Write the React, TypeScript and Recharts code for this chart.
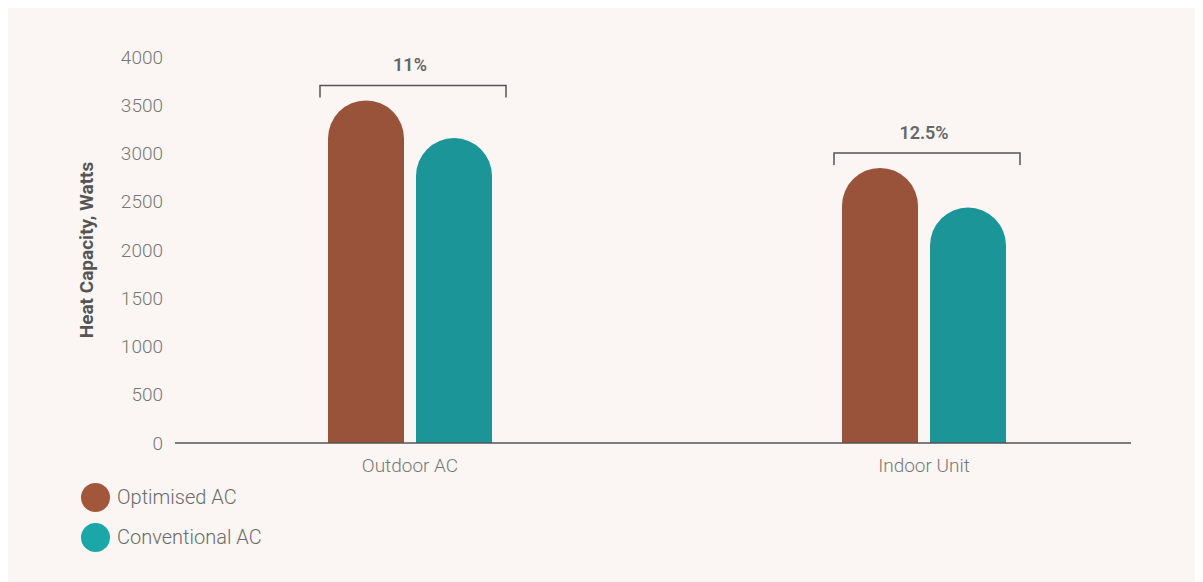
import { BarChart, Bar, XAxis, YAxis, Legend, LabelList } from 'recharts';

const categories = ['Outdoor AC', 'Indoor Unit'];
const optimisedAC = [3550, 2850];
const conventionalAC = [3160, 2440];
const gainLabels = ['11%', '12.5%'];
const yTicks = [0, 500, 1000, 1500, 2000, 2500, 3000, 3500, 4000];

const data = categories.map((name, i) => ({
  name,
  optimised: optimisedAC[i],
  conventional: conventionalAC[i],
  gain: gainLabels[i],
}));

const BAR_SIZE = 76;
const BAR_GAP = 12;

const legendOrder = ['optimised', 'conventional'];
const legendColors: Record<string, string> = {
  optimised: '#a2573b',
  conventional: '#1ba7a8',
};

// bracket + percentage drawn above each pair of bars
function GainBracket(props: any) {
  const vb = props.viewBox ?? props;
  const { x, y, width } = vb;
  const cx = x + (width * 2 + BAR_GAP) / 2;
  const lineY = y - 15;
  const left = cx - 90;
  const right = cx + 96;
  return (
    <g>
      <path
        d={`M${left},${lineY + 12}V${lineY}H${right}V${lineY + 12}`}
        fill="none"
        stroke="#555"
        strokeWidth={1.5}
      />
      <text x={cx} y={lineY - 14} textAnchor="middle" fontSize={18} fontWeight={600} fill="#666">
        {props.value}
      </text>
    </g>
  );
}

function YLabel(props: any) {
  const { x, y, height } = props.viewBox;
  const cx = x + 11;
  const cy = y + height / 2;
  return (
    <text
      x={cx}
      y={cy}
      transform={`rotate(-90, ${cx}, ${cy})`}
      textAnchor="middle"
      dominantBaseline="central"
      fontSize={19}
      fontWeight={700}
      fill="#555"
    >
      Heat Capacity, Watts
    </text>
  );
}

function LegendContent(props: any) {
  const payload = [...(props.payload || [])].sort(
    (a: any, b: any) => legendOrder.indexOf(a.dataKey) - legendOrder.indexOf(b.dataKey)
  );
  return (
    <div style={{ height: 80, paddingLeft: 6 }}>
      {payload.map((entry: any) => (
        <div key={entry.dataKey} style={{ display: 'flex', alignItems: 'center', height: 40 }}>
          <span
            style={{
              width: 29,
              height: 29,
              borderRadius: '50%',
              background: legendColors[entry.dataKey],
              display: 'inline-block',
              marginRight: 7,
            }}
          />
          <span style={{ fontSize: 20, color: '#6a6a6a', fontWeight: 300 }}>{entry.value}</span>
        </div>
      ))}
    </div>
  );
}

export default function App() {
  return (
    <div
      style={{
        width: 1196,
        height: 576,
        background: '#fbf6f3',
        margin: '-2px 0 0 -1px',
        fontFamily: 'Roboto, sans-serif',
      }}
    >
      <BarChart
        width={1196}
        height={576}
        data={data}
        margin={{ top: 51, right: 72, left: 68, bottom: 25 }}
        barSize={BAR_SIZE}
        barGap={BAR_GAP}
      >
        <XAxis
          dataKey="name"
          height={34}
          padding={{ left: -22, right: -50 }}
          axisLine={{ stroke: '#555', strokeWidth: 1.5 }}
          tickLine={false}
          tickSize={0}
          tickMargin={16}
          tick={{ fill: '#777', fontSize: 19, fontWeight: 300 }}
        />
        <YAxis
          width={100}
          domain={[0, 4000]}
          ticks={yTicks}
          interval={0}
          axisLine={false}
          tickLine={false}
          tickSize={0}
          tickMargin={12}
          tick={{ fill: '#777', fontSize: 19, fontWeight: 300 }}
          label={{ content: YLabel }}
        />
        <Legend
          verticalAlign="bottom"
          align="left"
          layout="horizontal"
          content={LegendContent}
        />
        <Bar
          dataKey="optimised"
          name="Optimised AC"
          fill="#9a533b"
          radius={[38, 38, 0, 0]}
          isAnimationActive={false}
        >
          <LabelList dataKey="gain" content={GainBracket} />
        </Bar>
        <Bar
          dataKey="conventional"
          name="Conventional AC"
          fill="#1b9597"
          radius={[38, 38, 0, 0]}
          isAnimationActive={false}
        />
      </BarChart>
    </div>
  );
}
